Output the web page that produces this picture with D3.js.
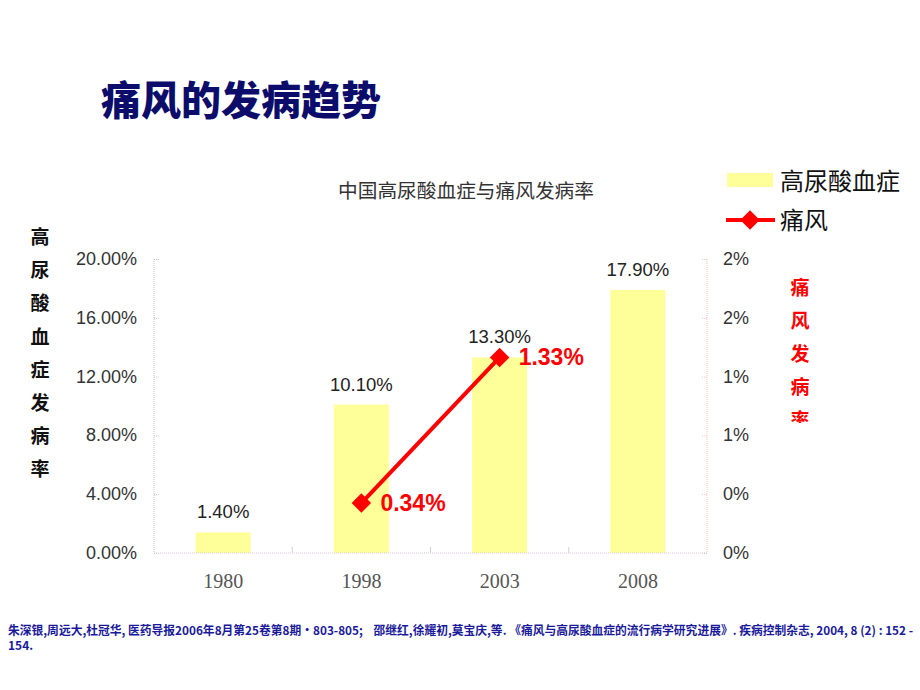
<!DOCTYPE html>
<html>
<head>
<meta charset="utf-8">
<script src="https://cdn.jsdelivr.net/npm/d3@7"></script>
<style>
  body { margin: 0; background: #fff; }
  text { font-family: "Liberation Sans", "Noto Sans CJK SC", sans-serif; }
  text.cjk { font-family: "Noto Sans CJK SC", sans-serif; }
  text.xlab { font-family: "Liberation Serif", "DejaVu Serif", serif; }
  text.note { white-space: pre; }
</style>
</head>
<body>
<svg id="chart" width="920" height="690"></svg>
<script>
// data
var years = ["1980", "1998", "2003", "2008"];
var hyperuricemia = [1.40, 10.10, 13.30, 17.90];   // %
var goutYears = ["1998", "2003"];
var gout = [0.34, 1.33];                             // %
var leftTicks = [0, 4, 8, 12, 16, 20];
var rightTicks = [0, 0.4, 0.8, 1.2, 1.6, 2.0];

var svg = d3.select("#chart");
var plotL = 154, plotR = 707, plotT = 259, plotB = 553;

var xb = d3.scaleBand().domain(years).range([plotL, plotR]);
var y = d3.scaleLinear().domain([0, 20]).range([plotB, plotT]);
var y2 = d3.scaleLinear().domain([0, 2]).range([plotB, plotT]);

// title
svg.append("text").attr("class", "cjk")
  .attr("x", 101).attr("y", 115)
  .attr("font-size", 40).attr("font-weight", 900)
  .attr("fill", "#0c0c6a")
  .text("痛风的发病趋势");

svg.append("text").attr("class", "cjk")
  .attr("x", 466).attr("y", 198)
  .attr("text-anchor", "middle")
  .attr("font-size", 19.7).attr("fill", "#333")
  .text("中国高尿酸血症与痛风发病率");

// bars
svg.selectAll("rect.bar").data(hyperuricemia).enter().append("rect")
  .attr("class", "bar")
  .attr("x", function(d, i) { return xb(years[i]) + (xb.bandwidth() - 55) / 2; })
  .attr("width", 55)
  .attr("y", function(d) { return y(d); })
  .attr("height", function(d) { return plotB - y(d); })
  .attr("fill", "#ffff99");

svg.selectAll("text.barlab").data(hyperuricemia).enter().append("text")
  .attr("class", "barlab")
  .attr("x", function(d, i) { return xb(years[i]) + xb.bandwidth() / 2; })
  .attr("y", function(d) { return y(d) - 14; })
  .attr("text-anchor", "middle")
  .attr("font-size", 18.5).attr("fill", "#222")
  .text(function(d) { return d.toFixed(2) + "%"; });

// axes
var yAxis = svg.append("g").attr("transform", "translate(" + plotL + ",0)")
  .call(d3.axisRight(y).tickValues(leftTicks).tickSize(6).tickFormat(""));
yAxis.selectAll("line, path").attr("stroke", "#c8c8c8").attr("stroke-dasharray", "1,1");
yAxis.select(".domain").attr("d", "M0," + plotT + "V" + plotB);
svg.selectAll("text.ylab").data(leftTicks).enter().append("text")
  .attr("class", "ylab")
  .attr("x", 137).attr("y", function(d) { return y(d) + 6; })
  .attr("text-anchor", "end").attr("font-size", 18).attr("fill", "#333")
  .text(function(d) { return d.toFixed(2) + "%"; });

var y2Axis = svg.append("g").attr("transform", "translate(" + plotR + ",0)")
  .call(d3.axisLeft(y2).tickValues(rightTicks).tickSize(6).tickFormat(""));
y2Axis.selectAll("line, path").attr("stroke", "#f2c6c6").attr("stroke-dasharray", "1,1");
y2Axis.select(".domain").attr("d", "M0," + plotT + "V" + plotB);
svg.selectAll("text.y2lab").data(rightTicks).enter().append("text")
  .attr("class", "y2lab")
  .attr("x", 723).attr("y", function(d) { return y2(d) + 6; })
  .attr("font-size", 18).attr("fill", "#333")
  .text(function(d) { return d3.format(".0%")(d / 100); });

var xAxis = svg.append("g").attr("transform", "translate(0," + plotB + ")")
  .call(d3.axisTop(xb).tickSize(0).tickFormat(""));
xAxis.select(".domain").attr("d", "M" + plotL + ",0H" + plotR)
  .attr("stroke", "#d8c8d8").attr("stroke-dasharray", "1,1");
svg.selectAll("line.xtick").data(years.slice(1)).enter().append("line")
  .attr("class", "xtick")
  .attr("x1", function(d) { return xb(d); }).attr("x2", function(d) { return xb(d); })
  .attr("y1", plotB).attr("y2", plotB - 6)
  .attr("stroke", "#d0d0d0");
svg.selectAll("text.xlab").data(years).enter().append("text")
  .attr("class", "xlab")
  .attr("x", function(d) { return xb(d) + xb.bandwidth() / 2; })
  .attr("y", 588)
  .attr("text-anchor", "middle")
  .attr("font-size", 20).attr("fill", "#555")
  .text(function(d) { return d; });

// gout line
var cx = function(i) { return xb(goutYears[i]) + xb.bandwidth() / 2; };
svg.append("path")
  .datum(gout)
  .attr("d", d3.line().x(function(d, i) { return cx(i); }).y(function(d) { return y2(d); }))
  .attr("fill", "none").attr("stroke", "#ff0000").attr("stroke-width", 4);
svg.selectAll("path.pt").data(gout).enter().append("path")
  .attr("class", "pt")
  .attr("d", d3.symbol().type(d3.symbolSquare).size(190))
  .attr("transform", function(d, i) { return "translate(" + cx(i) + "," + y2(d) + ") rotate(45)"; })
  .attr("fill", "#ff0000");
svg.selectAll("text.ptlab").data(gout).enter().append("text")
  .attr("class", "ptlab")
  .attr("x", function(d, i) { return cx(i) + 19; })
  .attr("y", function(d) { return y2(d) + 8; })
  .attr("font-size", 23).attr("font-weight", "bold").attr("fill", "#ff0000")
  .text(function(d) { return d.toFixed(2) + "%"; });

// axis titles
var leftTitle = "高尿酸血症发病率".split("");
svg.selectAll("text.lt").data(leftTitle).enter().append("text")
  .attr("class", "lt cjk")
  .attr("x", 40).attr("y", function(d, i) { return 244 + i * 33.2; })
  .attr("text-anchor", "middle")
  .attr("font-size", 19).attr("font-weight", "bold").attr("fill", "#111")
  .text(function(d) { return d; });

svg.append("clipPath").attr("id", "rclip")
  .append("rect").attr("x", 770).attr("y", 270).attr("width", 60).attr("height", 153);
var rightTitle = "痛风发病率".split("");
svg.append("g").attr("clip-path", "url(#rclip)")
  .selectAll("text").data(rightTitle).enter().append("text")
  .attr("class", "cjk")
  .attr("x", 800).attr("y", function(d, i) { return 295 + i * 33; })
  .attr("text-anchor", "middle")
  .attr("font-size", 19).attr("font-weight", "bold").attr("fill", "#ff0000")
  .text(function(d) { return d; });

// legend
svg.append("rect").attr("x", 727).attr("y", 173).attr("width", 46).attr("height", 14).attr("fill", "#ffff99");
svg.append("text").attr("class", "cjk")
  .attr("x", 780).attr("y", 190).attr("font-size", 24).attr("fill", "#111")
  .text("高尿酸血症");
svg.append("line").attr("x1", 726).attr("x2", 775).attr("y1", 220).attr("y2", 220)
  .attr("stroke", "#ff0000").attr("stroke-width", 4);
svg.append("path").attr("d", d3.symbol().type(d3.symbolSquare).size(190))
  .attr("transform", "translate(750,220) rotate(45)").attr("fill", "#ff0000");
svg.append("text").attr("class", "cjk")
  .attr("x", 780).attr("y", 229).attr("font-size", 24).attr("fill", "#111")
  .text("痛风");

// footnote
var notes = [
  "朱深银,周远大,杜冠华, 医药导报2006年8月第25卷第8期•803-805;    邵继红,徐耀初,莫宝庆,等. 《痛风与高尿酸血症的流行病学研究进展》. 疾病控制杂志, 2004, 8 (2) : 152 -",
  "154."
];
svg.selectAll("text.note").data(notes).enter().append("text")
  .attr("class", "note cjk")
  .attr("x", 8).attr("y", function(d, i) { return 635 + i * 15; })
  .attr("font-size", 12).attr("font-weight", "bold").attr("fill", "#1a1a9a")
  .attr("textLength", function(d, i) { return i === 0 ? 905 : null; })
  .attr("lengthAdjust", "spacingAndGlyphs")
  .text(function(d) { return d; });
</script>
</body>
</html>
